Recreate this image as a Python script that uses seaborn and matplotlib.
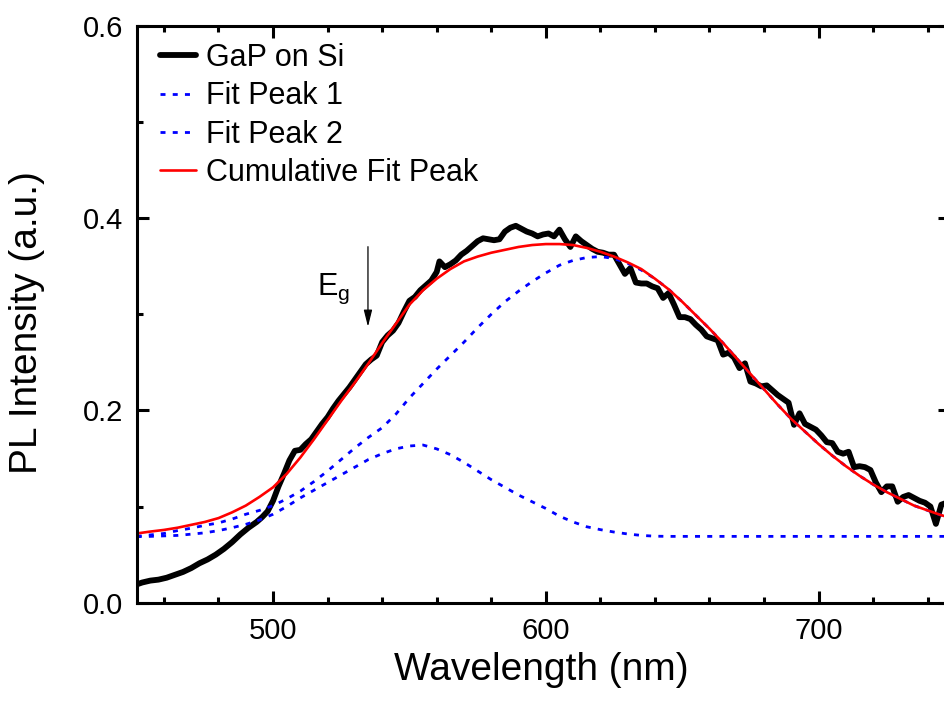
import numpy as np
import pandas as pd
import matplotlib
matplotlib.use('Agg')
import matplotlib.pyplot as plt
from matplotlib.ticker import MultipleLocator
import seaborn as sns

wl_meas = [450, 452, 455, 458, 461, 464, 467, 470, 473, 476, 479, 482, 485, 488,
           491, 494, 496, 498, 500, 502, 504, 506, 508, 510, 512, 514, 516, 518,
           520, 522, 524, 526, 528, 530, 532, 534, 536, 538, 540, 542, 544, 546,
           548, 550, 552, 554, 556, 558, 560, 561, 563, 565, 567, 569, 571, 573,
           575, 577, 579, 581, 583, 585, 587, 589, 591, 593, 595, 597, 599, 601,
           603, 605, 607, 609, 611, 613, 615, 617, 619, 621, 623, 625, 627, 629,
           631, 633, 635, 637, 639, 641, 643, 645, 647, 649, 651, 653, 655, 657,
           659, 661, 663, 665, 667, 669, 671, 673, 675, 677, 679, 681, 683, 685,
           687, 689, 691, 693, 695, 697, 699, 701, 703, 705, 707, 709, 711, 713,
           715, 717, 719, 721, 723, 725, 727, 729, 731, 733, 735, 737, 739, 741,
           743, 745, 747]
pl_meas = [0.019, 0.021, 0.023, 0.024, 0.026, 0.029, 0.032, 0.036, 0.041, 0.045,
           0.050, 0.056, 0.063, 0.071, 0.078, 0.084, 0.089, 0.095, 0.106, 0.121,
           0.134, 0.148, 0.158, 0.159, 0.165, 0.170, 0.178, 0.186, 0.193, 0.202,
           0.210, 0.217, 0.224, 0.232, 0.240, 0.248, 0.253, 0.257, 0.271, 0.278,
           0.283, 0.291, 0.303, 0.314, 0.318, 0.325, 0.330, 0.335, 0.344, 0.355,
           0.349, 0.352, 0.356, 0.362, 0.366, 0.371, 0.376, 0.379, 0.378, 0.377,
           0.378, 0.386, 0.390, 0.392, 0.389, 0.386, 0.384, 0.381, 0.383, 0.384,
           0.381, 0.388, 0.378, 0.370, 0.381, 0.376, 0.372, 0.368, 0.365, 0.364,
           0.362, 0.362, 0.352, 0.342, 0.348, 0.333, 0.332, 0.332, 0.329, 0.327,
           0.317, 0.322, 0.310, 0.297, 0.297, 0.295, 0.289, 0.284, 0.277, 0.275,
           0.273, 0.258, 0.260, 0.255, 0.244, 0.249, 0.230, 0.228, 0.225, 0.226,
           0.221, 0.216, 0.212, 0.208, 0.185, 0.197, 0.186, 0.183, 0.180, 0.174,
           0.167, 0.166, 0.157, 0.155, 0.157, 0.141, 0.142, 0.141, 0.138, 0.125,
           0.115, 0.121, 0.121, 0.105, 0.110, 0.112, 0.109, 0.106, 0.104, 0.100,
           0.082, 0.102, 0.104]

# fit curves, sampled every 5 nm from 450 to 750
wl_fit = list(range(450, 755, 5))
fit_peak1 = [0.0687, 0.0690, 0.0695, 0.0700, 0.0713, 0.0727, 0.0750, 0.0780,
             0.0815, 0.0860, 0.0920, 0.1000, 0.1090, 0.1170, 0.1250, 0.1330,
             0.1410, 0.1490, 0.1550, 0.1600, 0.1630, 0.1640, 0.1600, 0.1540,
             0.1460, 0.1370, 0.1280, 0.1200, 0.1120, 0.1050, 0.0980, 0.0900,
             0.0840, 0.0790, 0.0760, 0.0735, 0.0715, 0.0700, 0.0692, 0.0690,
             0.0690, 0.0690, 0.0690, 0.0690, 0.0690, 0.0690, 0.0690, 0.0690,
             0.0690, 0.0690, 0.0690, 0.0690, 0.0690, 0.0690, 0.0690, 0.0690,
             0.0690, 0.0690, 0.0690, 0.0690, 0.0690]
fit_peak2 = [0.0690, 0.0705, 0.0720, 0.0750, 0.0775, 0.0805, 0.0830, 0.0870,
             0.0920, 0.0960, 0.1010, 0.1080, 0.1160, 0.1260, 0.1370, 0.1490,
             0.1610, 0.1720, 0.1820, 0.1960, 0.2130, 0.2280, 0.2430, 0.2570,
             0.2710, 0.2860, 0.3000, 0.3130, 0.3240, 0.3340, 0.3430, 0.3510,
             0.3560, 0.3590, 0.3600, 0.3580, 0.3530, 0.3460, 0.3370, 0.3260,
             0.3130, 0.2990, 0.2850, 0.2700, 0.2540, 0.2380, 0.2220, 0.2060,
             0.1910, 0.1780, 0.1650, 0.1530, 0.1420, 0.1320, 0.1230, 0.1150,
             0.1080, 0.1010, 0.0960, 0.0910, 0.0870]
fit_cumul = [0.0720, 0.0740, 0.0757, 0.0780, 0.0810, 0.0840, 0.0880, 0.0940,
             0.1010, 0.1100, 0.1200, 0.1340, 0.1510, 0.1700, 0.1900, 0.2100,
             0.2290, 0.2490, 0.2700, 0.2900, 0.3100, 0.3250, 0.3370, 0.3470,
             0.3550, 0.3600, 0.3640, 0.3670, 0.3700, 0.3720, 0.3730, 0.3730,
             0.3720, 0.3690, 0.3650, 0.3600, 0.3540, 0.3470, 0.3370, 0.3260,
             0.3130, 0.2990, 0.2850, 0.2700, 0.2540, 0.2380, 0.2220, 0.2060,
             0.1910, 0.1780, 0.1650, 0.1530, 0.1420, 0.1320, 0.1230, 0.1150,
             0.1080, 0.1010, 0.0960, 0.0910, 0.0870]

meas = pd.DataFrame({'Wavelength': wl_meas, 'PL': pl_meas})
fits = pd.DataFrame({'Wavelength': wl_fit, 'Peak1': fit_peak1,
                     'Peak2': fit_peak2, 'Cumulative': fit_cumul})

sns.set_style('ticks')
plt.rcParams['font.family'] = ['Liberation Sans', 'DejaVu Sans']
plt.rcParams['mathtext.fontset'] = 'custom'
plt.rcParams['mathtext.rm'] = 'Liberation Sans'
for key in ['text.color', 'axes.labelcolor', 'xtick.color', 'ytick.color',
            'axes.edgecolor']:
    plt.rcParams[key] = 'black'

fig = plt.figure(figsize=(9.45, 7.09), dpi=100)
ax = fig.add_axes([0.1446, 0.1499, 0.8602, 0.8137])

dots = (0, (1.8, 2.6))
sns.lineplot(data=meas, x='Wavelength', y='PL', ax=ax, color='black', lw=4.2,
             label='GaP on Si')
sns.lineplot(data=fits, x='Wavelength', y='Peak1', ax=ax, color='#0000ff', lw=2.0,
             linestyle=dots, label='Fit Peak 1')
sns.lineplot(data=fits, x='Wavelength', y='Peak2', ax=ax, color='#0000ff', lw=2.0,
             linestyle=dots, label='Fit Peak 2')
sns.lineplot(data=fits, x='Wavelength', y='Cumulative', ax=ax, color='#ff0000',
             lw=1.9, label='Cumulative Fit Peak')

ax.set_xlim(450, 748)
ax.set_ylim(0, 0.6)
ax.xaxis.set_major_locator(MultipleLocator(100))
ax.xaxis.set_minor_locator(MultipleLocator(20))
ax.yaxis.set_major_locator(MultipleLocator(0.2))
ax.yaxis.set_minor_locator(MultipleLocator(0.1))
ax.yaxis.set_major_formatter(matplotlib.ticker.FormatStrFormatter('%.1f'))

for s in ax.spines.values():
    s.set_linewidth(2.2)
    s.set_color('black')
ax.tick_params(which='both', direction='in', top=True, right=True, width=2.2,
               labelsize=21, pad=10, colors='black')
ax.tick_params(which='major', length=8.4)
ax.tick_params(which='minor', length=4.2)

ax.set_xlabel('Wavelength (nm)', fontsize=28, va='center', color='black')
ax.set_ylabel('PL Intensity (a.u.)', fontsize=28, va='center', color='black')
ax.xaxis.set_label_coords(0.4975, -0.1167)
ax.yaxis.set_label_coords(-0.1348, 0.485)

# band gap marker
ax.annotate('', xy=(534.8, 0.287), xytext=(534.8, 0.3703),
            arrowprops=dict(arrowstyle='-|>,head_length=0.72,head_width=0.18',
                            color='black', lw=0.9, mutation_scale=14,
                            shrinkA=0, shrinkB=0))
ax.text(516.1, 0.320, r'$\mathregular{E_g}$', fontsize=22, ha='left',
        va='baseline', color='black')

leg = ax.legend(loc='upper left', bbox_to_anchor=(0.0288, 0.970), frameon=False,
                fontsize=22, handlelength=1.17, handletextpad=0.32,
                labelspacing=0.27, borderpad=0, borderaxespad=0)
for t in leg.get_texts():
    t.set_color('black')

fig.savefig('out.png', dpi=100)
